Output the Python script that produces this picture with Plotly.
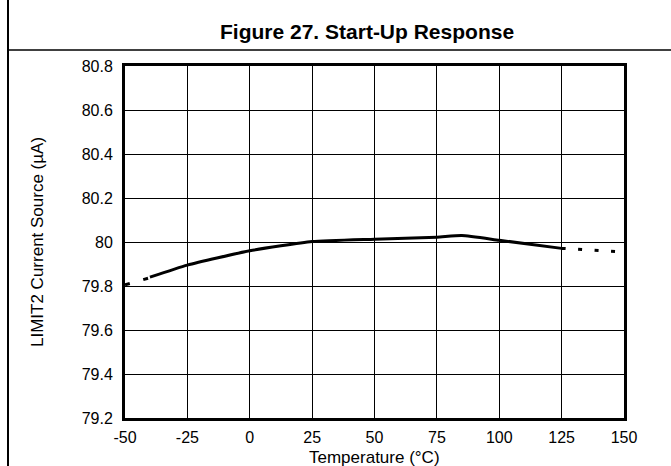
import plotly.graph_objects as go

# Data
temp_solid = [-40, -25, 0, 25, 50, 75, 85, 100, 125]
current_solid = [79.840, 79.895, 79.960, 80.002, 80.013, 80.022, 80.029, 80.008, 79.971]

temp_left = [-50, -40]
current_left = [79.805, 79.838]

temp_right = [125, 150]
current_right = [79.971, 79.954]

x_ticks = [-50, -25, 0, 25, 50, 75, 100, 125, 150]
y_ticks = [79.2, 79.4, 79.6, 79.8, 80, 80.2, 80.4, 80.6, 80.8]
y_tick_labels = ["79.2", "79.4", "79.6", "79.8", "80", "80.2", "80.4", "80.6", "80.8"]

title_text = "Figure 27. Start-Up Response"
x_title = "Temperature (°C)"
y_title = "LIMIT2 Current Source (µA)"

W, H = 671, 466
L, R, T, B = 125, 47, 66, 48
pw, ph = W - L - R, H - T - B


def px_x(p):
    return (p - L) / pw


def px_y(p):
    return (H - B - p) / ph


FONT = "Liberation Sans, Arial, sans-serif"

fig = go.Figure()
fig.add_trace(go.Scatter(x=temp_left, y=current_left, mode="lines",
                         line=dict(color="black", width=3, dash="5px,14px"),
                         hoverinfo="skip", showlegend=False))
fig.add_trace(go.Scatter(x=temp_solid, y=current_solid, mode="lines",
                         line=dict(color="black", width=3, shape="spline", smoothing=0.5),
                         showlegend=False))
fig.add_trace(go.Scatter(x=temp_right, y=current_right, mode="lines",
                         line=dict(color="black", width=3, dash="4px,12.5px"),
                         hoverinfo="skip", showlegend=False))

fig.update_layout(
    width=W, height=H,
    margin=dict(l=L, r=R, t=T, b=B, pad=0),
    paper_bgcolor="white", plot_bgcolor="white",
    font=dict(family=FONT, size=16, color="black"),
    showlegend=False,
    xaxis=dict(range=[-50, 150], tickvals=x_ticks, ticktext=[str(v) for v in x_ticks],
               showgrid=True, gridcolor="black", gridwidth=1,
               showline=True, linecolor="black", linewidth=3, mirror=True,
               ticks="", zeroline=False, ticklabelstandoff=3,
               tickfont=dict(size=16, family=FONT, color="black")),
    yaxis=dict(range=[79.2, 80.8], tickvals=y_ticks, ticktext=y_tick_labels,
               showgrid=True, gridcolor="black", gridwidth=1,
               showline=True, linecolor="black", linewidth=3, mirror=True,
               ticks="", zeroline=False, ticklabelstandoff=6,
               tickfont=dict(size=16, family=FONT, color="black")),
    annotations=[
        dict(text="<b>" + title_text + "</b>", xref="paper", yref="paper",
             x=px_x(367), y=px_y(32), xanchor="center", yanchor="middle",
             showarrow=False, font=dict(size=21, family=FONT, color="black")),
        dict(text=x_title, xref="paper", yref="paper",
             x=0.5, y=px_y(457), xanchor="center", yanchor="middle",
             showarrow=False, font=dict(size=17, family=FONT, color="black")),
        dict(text=y_title, xref="paper", yref="paper", textangle=-90,
             x=px_x(37), y=0.5, xanchor="center", yanchor="middle",
             showarrow=False, font=dict(size=17, family=FONT, color="black")),
    ],
    shapes=[
        dict(type="line", xref="paper", yref="paper",
             x0=px_x(8), x1=px_x(8), y0=px_y(0), y1=px_y(466),
             line=dict(color="black", width=2)),
        dict(type="line", xref="paper", yref="paper",
             x0=px_x(8), x1=px_x(671), y0=px_y(50), y1=px_y(50),
             line=dict(color="black", width=1.5)),
    ],
)

fig.write_html("out.html")
